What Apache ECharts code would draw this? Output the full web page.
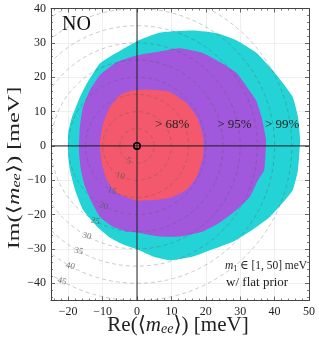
<!DOCTYPE html>
<html><head><meta charset="utf-8">
<script src="https://cdn.jsdelivr.net/npm/echarts@6/dist/echarts.min.js"></script>
<style>html,body{margin:0;padding:0;background:#fff}#c{width:319px;height:341px}</style>
</head><body><div id="c"></div><script>
// Boundary points of the credible regions (meV)
const cyanRegion = [[47.4,1.7],[46.8,8.4],[45.3,14.2],[42.4,18.3],[38.7,22.9],[34.9,27],[29,30.7],[23.3,32.8],[16.3,33.6],[6.7,33],[0,30.5],[-5.8,27.2],[-10.8,24],[-14.5,18.3],[-16.6,14.2],[-18.9,8.4],[-20,3.8],[-20,-3],[-19.5,-7],[-18,-12.8],[-15.7,-18.6],[-11.6,-23.5],[-7.8,-26.7],[-4,-28.7],[0,-30.1],[4.7,-32.2],[9.6,-33.3],[16.3,-32.2],[22,-30.1],[28,-27.8],[33.7,-24.3],[38.7,-20.6],[42.4,-16.5],[45.3,-12.8],[46.8,-7]];
const purpleRegion = [[37.5,1.7],[36.2,8.4],[34.6,13.3],[32,17.1],[29,21.2],[24.1,24.4],[19.2,27],[12.5,28.4],[6.7,27.5],[0,26.4],[-5.8,24.4],[-10.8,20.6],[-13.7,16.2],[-15.7,11.3],[-16.6,5.5],[-16.9,-1.2],[-16.3,-7],[-15.1,-11.9],[-13.1,-16.5],[-10.8,-20.6],[-7,-23.5],[-2.9,-24.9],[0,-25.2],[6.7,-26.4],[12.5,-26.4],[19.2,-24.9],[24.1,-22.3],[29,-18.6],[32.8,-14.8],[35.2,-9.9],[37,-7]];
const redRegion = [[19.2,2.7],[17.4,8.5],[14.4,12.4],[9.6,15.7],[2.8,16.4],[-2,16],[-4.9,14.8],[-7.8,11.4],[-9.8,6.6],[-10.8,0.8],[-10.2,-5],[-8.8,-9.9],[-5.9,-13.7],[0,-15.9],[5.7,-15.7],[9.6,-15.1],[14.4,-12.8],[17.4,-8.9],[19.2,-3.1]];
const circleRadii = [5,10,15,20,25,30,35,40,45];
const xTickLabels = [-20,-10,0,10,20,30,40,50];
const yTickLabels = [-40,-30,-20,-10,0,10,20,30,40];
const regionLabels = [{text:'> 68%', x:5.2, y:6.1},{text:'> 95%', x:23.3, y:6.1},{text:'> 99%', x:37.2, y:6.1}];

const SERIF = '"Liberation Serif","DejaVu Serif",serif';
const fmt = v => String(v).replace('-', '\u2212');
const xFmt = v => xTickLabels.indexOf(v) >= 0 ? fmt(v) : '';
const yFmt = v => yTickLabels.indexOf(v) >= 0 ? fmt(v) : '';

const chart = echarts.init(document.getElementById('c'), null, {renderer:'canvas'});

function axisBase(pos, isX, showLabels) {
  return {
    type:'value', position:pos,
    min: isX ? -25 : -45, max: isX ? 50 : 40, splitNumber: 8,
    axisLine:{show:true, onZero:false, lineStyle:{color:'#444', width:1}},
    axisTick:{show:true, inside:true, length:4, lineStyle:{color:'#444', width:0.8}},
    minorTick:{show:true, splitNumber:5, length:2, lineStyle:{color:'#444', width:0.7}},
    axisLabel:{show:showLabels, color:'#222', fontFamily:SERIF, fontSize:12, margin:5,
      showMinLabel:false, formatter: isX ? xFmt : yFmt},
    splitLine:{show:showLabels, lineStyle:{color:'#ebebeb', width:0.8}},
    minorSplitLine:{show:false}
  };
}

function polySeries(pts, color) {
  return {
    type:'custom', xAxisIndex:0, yAxisIndex:0, clip:true, silent:true,
    data:[0],
    renderItem:(params, api) => ({
      type:'polygon',
      shape:{points: pts.map(p => api.coord(p)), smooth:0.15},
      style:{fill: color, stroke:'none'}
    })
  };
}

const option = {
  animation:false,
  backgroundColor:'#fff',
  grid:{left:51, top:8.5, width:258, height:292, containLabel:false},
  xAxis:[axisBase('bottom', true, true), axisBase('top', true, false)],
  yAxis:[axisBase('left', false, true), axisBase('right', false, false)],
  series:[
    polySeries(cyanRegion, '#24D3D5'),
    polySeries(purpleRegion, '#A158DC'),
    polySeries(redRegion, '#F4586C'),
    {
      type:'custom', xAxisIndex:0, yAxisIndex:0, clip:true, silent:true,
      data: circleRadii,
      renderItem:(params, api) => {
        const r = api.value(0);
        const c = api.coord([0,0]);
        const s = api.size([r, r]);
        const ang = -119 * Math.PI / 180;
        const lp = api.coord([r*Math.cos(ang), r*Math.sin(ang)]);
        return {type:'group', children:[
          {type:'ellipse', shape:{cx:c[0], cy:c[1], rx:s[0], ry:s[1]},
           style:{fill:'none', stroke:'rgba(80,80,80,0.33)', lineWidth:0.9, lineDash:[4,3]}},
          {type:'text', x:lp[0], y:lp[1], rotation:-Math.PI/12,
           style:{text:String(r), fill:'rgba(90,90,90,0.8)', font:'9px '+SERIF, align:'center', verticalAlign:'middle'}}
        ]};
      }
    },
    {
      type:'custom', xAxisIndex:0, yAxisIndex:0, clip:true, silent:true,
      data:[0],
      renderItem:(params, api) => {
        const a = api.coord([-25,0]), b = api.coord([50,0]);
        const c = api.coord([0,-45]), d = api.coord([0,40]);
        const o = api.coord([0,0]);
        return {type:'group', children:[
          {type:'line', shape:{x1:a[0], y1:a[1], x2:b[0], y2:b[1]}, style:{stroke:'rgba(25,25,25,0.8)', lineWidth:1.2}},
          {type:'line', shape:{x1:c[0], y1:c[1], x2:d[0], y2:d[1]}, style:{stroke:'rgba(25,25,25,0.8)', lineWidth:1.2}},
          {type:'circle', shape:{cx:o[0], cy:o[1], r:3.2}, style:{fill:'none', stroke:'#000', lineWidth:1.6}}
        ]};
      }
    },
    {
      type:'custom', xAxisIndex:0, yAxisIndex:0, clip:false, silent:true,
      data: regionLabels.map(d => [d.x, d.y]),
      renderItem:(params, api) => {
        const p = api.coord([api.value(0), api.value(1)]);
        return {type:'text', x:p[0], y:p[1],
          style:{text: regionLabels[params.dataIndex].text, fill:'#222', font:'13px '+SERIF, align:'left', verticalAlign:'middle'}};
      }
    },
    {
      type:'custom', xAxisIndex:0, yAxisIndex:0, clip:false, silent:true,
      data:[[-21.8, 35.2],[25.6,-34.8],[25.9,-39.7]],
      renderItem:(params, api) => {
        const p = api.coord([api.value(0), api.value(1)]);
        const i = params.dataIndex;
        if (i === 0) return {type:'text', x:p[0], y:p[1], style:{text:'NO', fill:'#111', font:'20px '+SERIF, align:'left', verticalAlign:'middle'}};
        if (i === 1) return {type:'text', x:p[0], y:p[1], scaleX:0.88, style:{
          text:'{i|m}{s|1} \u2208 [1, 50] meV', fill:'#222', font:'13px '+SERIF, align:'left', verticalAlign:'middle',
          rich:{i:{fontFamily:SERIF, fontSize:13, fontStyle:'italic', fill:'#222'}, s:{fontFamily:SERIF, fontSize:9, fill:'#222', padding:[6,0,0,0]}}}};
        return {type:'text', x:p[0], y:p[1], style:{text:'w/ flat prior', fill:'#222', font:'13px '+SERIF, align:'left', verticalAlign:'middle'}};
      }
    }
  ],
  graphic:[
    {type:'text', x:178, y:325, scaleX:1, scaleY:1,
     style:{text:'Re(\u27E8{i|m}{s|ee}\u27E9) [meV]', fill:'#222', font:'21px '+SERIF, align:'center', verticalAlign:'middle',
       rich:{i:{fontFamily:SERIF, fontSize:21, fontStyle:'italic', fill:'#222'}, s:{fontFamily:SERIF, fontSize:14, fontStyle:'italic', fill:'#222', padding:[8,0,0,0]}}}},
    {type:'text', x:14, y:168, rotation:Math.PI/2, scaleX:1.15, scaleY:0.82,
     style:{text:'Im(\u27E8{i|m}{s|ee}\u27E9) [meV]', fill:'#222', font:'21px '+SERIF, align:'center', verticalAlign:'middle',
       rich:{i:{fontFamily:SERIF, fontSize:21, fontStyle:'italic', fill:'#222'}, s:{fontFamily:SERIF, fontSize:14, fontStyle:'italic', fill:'#222', padding:[8,0,0,0]}}}}
  ]
};
chart.setOption(option);
</script></body></html>
